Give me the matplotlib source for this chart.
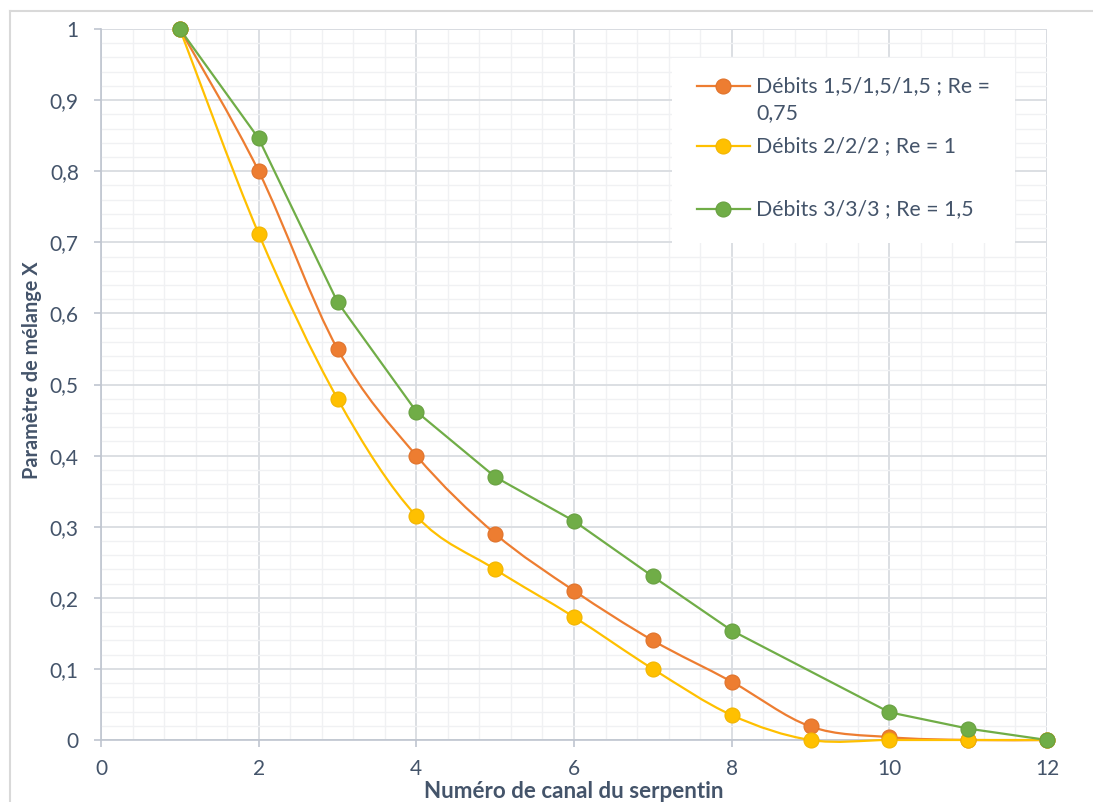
import matplotlib
matplotlib.use("Agg")
import matplotlib.pyplot as plt
import numpy as np
from matplotlib.path import Path
from matplotlib.patches import PathPatch, Rectangle
from matplotlib.lines import Line2D
from matplotlib.ticker import MultipleLocator, FuncFormatter

# ---- data ----
x_orange = [1, 2, 3, 4, 5, 6, 7, 8, 9, 10, 11, 12]
y_orange = [1.0, 0.80, 0.55, 0.40, 0.29, 0.21, 0.14, 0.082, 0.019, 0.004, 0.0, 0.0]
x_yellow = [1, 2, 3, 4, 5, 6, 7, 8, 9, 10, 11, 12]
y_yellow = [1.0, 0.712, 0.48, 0.315, 0.24, 0.173, 0.10, 0.035, 0.0, 0.0, 0.0, 0.0]
x_green = [1, 2, 3, 4, 5, 6, 7, 8, 10, 11, 12]
y_green = [1.0, 0.846, 0.616, 0.462, 0.37, 0.308, 0.23, 0.154, 0.039, 0.016, 0.0]
labels = ["Débits 1,5/1,5/1,5 ; Re =\n0,75", "Débits 2/2/2 ; Re = 1", "Débits 3/3/3 ; Re = 1,5"]
colors = ["#ED7D31", "#FFC000", "#70AD47"]
edge_colors = ["#E0722A", "#F2B500", "#67A040"]
smoothed = [True, True, False]
x_ticks = [0, 2, 4, 6, 8, 10, 12]
y_ticks = [0, 0.1, 0.2, 0.3, 0.4, 0.5, 0.6, 0.7, 0.8, 0.9, 1.0]
x_label = "Numéro de canal du serpentin"
y_label = "Paramètre de mélange X"

TXT = "#44546A"
plt.rcParams['font.family'] = ['Lato', 'DejaVu Sans']

W, H = 1093, 802
fig = plt.figure(figsize=(W / 100, H / 100), dpi=100)
L, R, T, B = 101, 1047, 29, 740
ax = fig.add_axes([L / W, (H - B) / H, (R - L) / W, (B - T) / H])
ax.set_xlim(0, 12)
ax.set_ylim(0, 1)

# figure frame
fig.add_artist(Line2D([10 / W, 1], [1 - 11 / H, 1 - 11 / H], transform=fig.transFigure, color="#D9D9D9", lw=1.5))
fig.add_artist(Line2D([10 / W, 10 / W], [0, 1 - 11 / H], transform=fig.transFigure, color="#D9D9D9", lw=1.5))

# grid
ax.set_xticks(x_ticks)
ax.set_yticks(y_ticks)
ax.xaxis.set_minor_locator(MultipleLocator(0.4))
ax.yaxis.set_minor_locator(MultipleLocator(0.02))
ax.grid(which="major", color="#D9DCE1", lw=1.3)
ax.grid(which="minor", color="#F0F1F3", lw=1.0)
ax.set_axisbelow(True)
ax.axvline(12, color="#D9DCE1", lw=1.3, zorder=0.5)
ax.axhline(1, color="#D9DCE1", lw=1.3, zorder=0.5)

for s in ["top", "right"]:
    ax.spines[s].set_visible(False)
for s in ["left", "bottom"]:
    ax.spines[s].set_color("#BFC5CF")
    ax.spines[s].set_linewidth(1.2)

fmt = FuncFormatter(lambda v, p: ("%g" % round(v, 2)).replace(".", ","))
ax.xaxis.set_major_formatter(fmt)
ax.yaxis.set_major_formatter(fmt)
ax.tick_params(which="major", length=5, width=1.2, color="#BFC5CF", labelcolor=TXT, labelsize=15)
ax.tick_params(which="minor", length=0)
ax.tick_params(axis="y", pad=11)
ax.tick_params(axis="x", pad=9)

xl = ax.set_xlabel(x_label, fontsize=15, fontweight="bold", color=TXT, va="center")
yl = ax.set_ylabel(y_label, fontsize=15, fontweight="bold", color=TXT, va="center")
ax.xaxis.set_label_coords(0.5, (B - 792) / (B - T))
ax.yaxis.set_label_coords((32 - L) / (R - L), (B - 370) / (B - T))

# fit label lengths to the reference
fig.canvas.draw()
rend = fig.canvas.get_renderer()
wx = xl.get_window_extent(rend).width
xl.set_fontsize(15 * 300 / wx)
hy = yl.get_window_extent(rend).height
yl.set_fontsize(15 * 218 / hy)


def smooth_path(xs, ys):
    pts = np.column_stack([xs, ys]).astype(float)
    n = len(pts)
    verts = [pts[0]]
    codes = [Path.MOVETO]
    for i in range(n - 1):
        p0 = pts[i - 1] if i > 0 else pts[i]
        p1 = pts[i]
        p2 = pts[i + 1]
        p3 = pts[i + 2] if i + 2 < n else pts[i + 1]
        c1 = p1 + (p2 - p0) / 6.0
        c2 = p2 - (p3 - p1) / 6.0
        verts += [c1, c2, p2]
        codes += [Path.CURVE4] * 3
    return Path(verts, codes)


series = [(x_orange, y_orange), (x_yellow, y_yellow), (x_green, y_green)]
for k, (xs, ys) in enumerate(series):
    if smoothed[k]:
        patch = PathPatch(smooth_path(xs, ys), facecolor="none", edgecolor=colors[k], lw=1.6, zorder=3 + k, clip_on=False)
        ax.add_patch(patch)
    else:
        ax.plot(xs, ys, color=colors[k], lw=1.6, zorder=3 + k, clip_on=False)
for k, (xs, ys) in enumerate(series):
    ax.plot(xs, ys, ls="none", marker="o", ms=10.8, mfc=colors[k], mec=edge_colors[k], mew=0.8, zorder=6 + k, clip_on=False)

# legend (manual)
def axp(px, py):
    return (px - L) / (R - L), (B - py) / (B - T)

x0, y0 = axp(672, 243)
x1, y1 = axp(1015, 58)
ax.add_patch(Rectangle((x0, y0), x1 - x0, y1 - y0, transform=ax.transAxes, facecolor="white", edgecolor="none", zorder=10))
rows = [86, 146, 209]
for k, py in enumerate(rows):
    ha, ya = axp(697, py)
    hb, _ = axp(750, py)
    hm, _ = axp(723, py)
    ax.add_line(Line2D([ha, hb], [ya, ya], transform=ax.transAxes, color=colors[k], lw=1.6, zorder=11))
    ax.add_line(Line2D([hm], [ya], transform=ax.transAxes, ls="none", marker="o", ms=10.8, mfc=colors[k], mec=edge_colors[k], mew=0.8, zorder=12))
    for j, line in enumerate(labels[k].split("\n")):
        tx, ty = axp(756, py + 6 + 27 * j)
        ax.text(tx, ty, line, transform=ax.transAxes, ha="left", va="baseline", fontsize=15.3, color=TXT, zorder=12)

fig.savefig("out.png", dpi=100)
